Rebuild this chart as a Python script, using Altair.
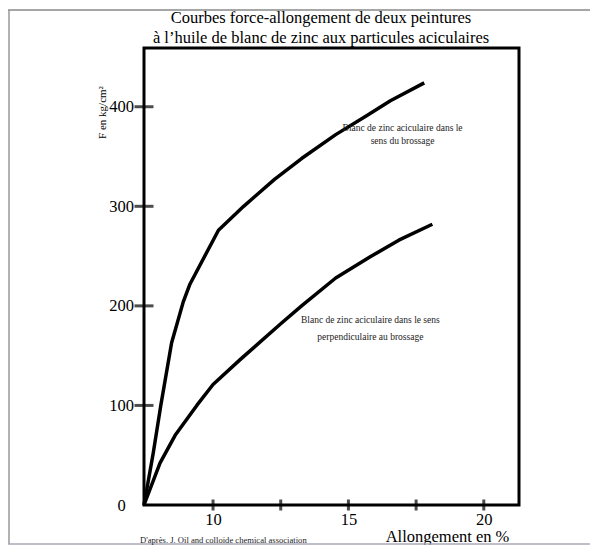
import altair as alt
import pandas as pd

# ---- data ----
upper_x = [7.45, 7.79, 8.07, 8.47, 8.9, 9.15, 10.2, 11.13, 12.27, 13.27, 14.53, 15.67, 16.55, 17.8]
upper_y = [0, 52, 100, 163, 204, 222, 276, 300, 327, 348, 372, 391, 406, 424]
lower_x = [7.45, 8.04, 8.6, 9.4, 10.0, 11.0, 12.5, 13.27, 14.53, 15.79, 16.86, 18.1]
lower_y = [0, 42, 70, 100, 121, 146, 182, 200, 228, 249, 266, 282]

x_ticks = [10, 12.5, 15, 17.5, 20]
y_ticks = [100, 200, 300, 400]
y_labels = [0, 100, 200, 300, 400]
x_domain = [7.45, 21.3]
y_domain = [0, 459]

title_lines = ["Courbes force-allongement de deux peintures",
               "à l’huile de blanc de zinc aux particules aciculaires"]
x_title = "Allongement en %"
y_title = "F en kg/cm²"
footer = "D'après. J. Oil and colloide chemical association"

ann_text = ["Blanc de zinc aciculaire dans le", "sens du brossage",
            "Blanc de zinc aciculaire dans le sens", "perpendiculaire au brossage"]
ann_x = [17.0, 17.0, 15.81, 15.81]
ann_y = [379, 366, 186, 169]

SERIF = "Liberation Serif"

curves = pd.DataFrame({
    "x": upper_x + lower_x,
    "y": upper_y + lower_y,
    "serie": ["sens du brossage"] * len(upper_x) + ["perpendiculaire"] * len(lower_x),
    "order": list(range(len(upper_x))) + list(range(len(lower_x))),
})

xs = alt.Scale(domain=x_domain, nice=False, zero=False)
ys = alt.Scale(domain=y_domain, nice=False, zero=False)

xaxis = alt.Axis(values=x_ticks, labelExpr="datum.value % 5 == 0 ? datum.label : ''",
                 ticks=False, tickSize=0, domain=False, grid=False,
                 labelFont=SERIF, labelFontSize=16.5, labelColor="black",
                 labelPadding=6, labelBaseline="top",
                 title=x_title, titleFont=SERIF, titleFontSize=16.5, titleFontWeight="normal",
                 titleColor="black", titleX=303, titleY=36, titleAlign="center",
                 titleBaseline="alphabetic")
yaxis = alt.Axis(values=y_labels, ticks=False, tickSize=0, domain=False, grid=False,
                 labelFont=SERIF, labelFontSize=16.5, labelColor="black",
                 labelAlign="center", labelPadding=23,
                 title=y_title, titleFont=SERIF, titleFontSize=11, titleFontWeight="normal",
                 titleColor="black", titleX=-42, titleY=64, titleAngle=-90,
                 titleAlign="center", titleBaseline="middle")

lines = alt.Chart(curves).mark_line(color="black", strokeWidth=3.5, strokeJoin="round").encode(
    x=alt.X("x:Q", scale=xs, axis=xaxis),
    y=alt.Y("y:Q", scale=ys, axis=yaxis),
    detail="serie:N",
    order="order:Q",
)

xt = alt.Chart(pd.DataFrame({"x": x_ticks, "y": [0] * len(x_ticks)})).mark_tick(
    orient="vertical", color="black", thickness=3, size=11).encode(
    x=alt.X("x:Q", scale=xs), y=alt.Y("y:Q", scale=ys))

yt = alt.Chart(pd.DataFrame({"x": [x_domain[0]] * len(y_ticks), "y": y_ticks})).mark_tick(
    orient="horizontal", color="black", thickness=3, size=19).encode(
    x=alt.X("x:Q", scale=xs), y=alt.Y("y:Q", scale=ys))

ann = alt.Chart(pd.DataFrame({"x": ann_x, "y": ann_y, "t": ann_text})).mark_text(
    font=SERIF, fontSize=9.5, color="#222", align="center", baseline="middle").encode(
    x=alt.X("x:Q", scale=xs), y=alt.Y("y:Q", scale=ys), text="t:N")

# title drawn as text (two lines), positioned in pixels above the plot frame
title_df = pd.DataFrame({"t": title_lines, "py": [-25, -5]})
title = alt.Chart(title_df).mark_text(
    font=SERIF, fontSize=16.5, color="black", align="center", baseline="alphabetic").encode(
    x=alt.value(177), y=alt.Y("py:Q", scale=None), text="t:N")

foot = alt.Chart(pd.DataFrame({"t": [footer]})).mark_text(
    font=SERIF, fontSize=8.6, color="#222", align="left", baseline="middle").encode(
    x=alt.value(-4), y=alt.value(492), text="t:N")

frame = pd.DataFrame({"k": [0]})
top_line = alt.Chart(frame).mark_rule(color="#888", strokeWidth=1.5).encode(
    x=alt.value(-136), x2=alt.value(446), y=alt.value(-38))
left_line = alt.Chart(frame).mark_rule(color="#999", strokeWidth=1.5).encode(
    x=alt.value(-135), y=alt.value(-38), y2=alt.value(496))
bottom_line = alt.Chart(frame).mark_rule(color="#aab", strokeWidth=1.5).encode(
    x=alt.value(-136), x2=alt.value(446), y=alt.value(496))

chart = alt.layer(top_line, left_line, bottom_line, lines, xt, yt, ann, title, foot).properties(
    width=375, height=457,
    padding={"left": 136, "top": 40, "right": 79, "bottom": 40},
    autosize=alt.AutoSizeParams(type="none"),
).configure_view(stroke="black", strokeWidth=3)

chart.save("out.html", embed_options={"renderer": "svg", "actions": False})
